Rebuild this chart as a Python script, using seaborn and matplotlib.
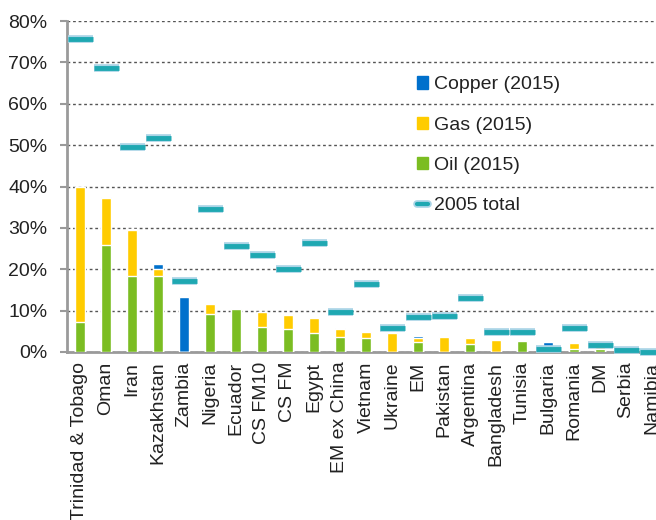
import numpy as np
import matplotlib
matplotlib.use("Agg")
import matplotlib.pyplot as plt
import matplotlib.patheffects as pe
from matplotlib.patches import Patch
from matplotlib.lines import Line2D
import seaborn as sns

sns.set_style("white")
plt.rcParams['font.family'] = ['Liberation Sans', 'DejaVu Sans']

countries = ['Trinidad & Tobago', 'Oman', 'Iran', 'Kazakhstan', 'Zambia', 'Nigeria',
             'Ecuador', 'CS FM10', 'CS FM', 'Egypt', 'EM ex China', 'Vietnam',
             'Ukraine', 'EM', 'Pakistan', 'Argentina', 'Bangladesh', 'Tunisia',
             'Bulgaria', 'Romania', 'DM', 'Serbia', 'Namibia']
# 2015 shares, %
oil = [7.3, 25.8, 18.4, 18.3, 0.0, 9.3, 10.4, 6.1, 5.6, 4.7, 3.6, 3.5,
       0.0, 2.3, 0.0, 1.9, 0.0, 2.7, 0.0, 0.8, 0.7, 0.0, 0.0]
gas = [32.6, 11.5, 11.1, 1.7, 0.0, 2.4, 0.0, 3.5, 3.3, 3.5, 2.0, 1.4,
       4.5, 1.2, 3.6, 1.6, 2.8, 0.0, 0.0, 1.4, 0.6, 0.0, 0.0]
copper = [0.0, 0.2, 0.2, 1.2, 13.4, 0.0, 0.0, 0.0, 0.3, 0.0, 0.3, 0.0,
          0.0, 0.4, 0.0, 0.0, 0.0, 0.0, 2.5, 0.0, 0.0, 0.0, 0.0]
total_2005 = [75.6, 68.7, 49.5, 51.8, 17.1, 34.5, 25.6, 23.5, 20.1, 26.4, 9.6, 16.4,
              5.8, 8.5, 8.8, 13.0, 4.9, 4.9, 0.7, 5.7, 1.8, 0.6, 0.1]

c_oil = '#7BBD22'
c_gas = '#FFCC00'
c_copper = '#0070CC'
c_2005 = '#1FA8B2'
c_text = '#222222'
c_axis = '#9A9A9A'

oil = np.array(oil)
gas = np.array(gas)
copper = np.array(copper)

fig = plt.figure(figsize=(6.56, 5.2), dpi=100)
ax = fig.add_axes([67 / 656, 1 - 352 / 520, 598 / 656, 331 / 520])

# stacked bars drawn as overlapping cumulative totals
sns.barplot(x=countries, y=oil + gas + copper, color=c_copper, width=0.4,
            saturation=1, ax=ax, zorder=3)
sns.barplot(x=countries, y=oil + gas, color=c_gas, width=0.4,
            saturation=1, ax=ax, zorder=3)
sns.barplot(x=countries, y=oil, color=c_oil, width=0.4,
            saturation=1, ax=ax, zorder=3)

halo = [pe.Stroke(linewidth=5.5, foreground='#A9D4E6'), pe.Normal()]
ax.plot(np.arange(len(countries)), total_2005, linestyle='none', marker='_',
        markersize=18, markeredgewidth=3.5, color=c_2005, zorder=4,
        path_effects=halo, clip_on=False)

ax.set_xlim(-0.5, len(countries) - 0.5)
ax.set_ylim(0, 80)
ax.set_yticks(np.arange(0, 81, 10))
ax.set_yticklabels([f'{v}%' for v in range(0, 81, 10)])
ax.yaxis.grid(True, linestyle=(0, (2, 2)), color='#555555', linewidth=1)
ax.set_axisbelow(True)

ax.set_xticks(np.arange(len(countries)))
ax.set_xticklabels(countries, rotation=90)
ax.set_xticks(np.arange(-0.5, len(countries)), minor=True)
ax.tick_params(axis='x', which='major', length=0, pad=7, labelsize=14, labelcolor=c_text)
ax.tick_params(axis='x', which='minor', length=6, width=1.5, color=c_axis, direction='out')
ax.tick_params(axis='y', length=5, width=1.5, color=c_axis, direction='out',
               pad=9, labelsize=14, labelcolor=c_text, left=True)

for s in ['top', 'right']:
    ax.spines[s].set_visible(False)
for s in ['left', 'bottom']:
    ax.spines[s].set_color(c_axis)
    ax.spines[s].set_linewidth(2)

handles = [Patch(color=c_copper, label='Copper (2015)'),
           Patch(color=c_gas, label='Gas (2015)'),
           Patch(color=c_oil, label='Oil (2015)'),
           Line2D([], [], color=c_2005, linewidth=3, path_effects=halo, label='2005 total')]
ax.legend(handles=handles, loc='upper left', bbox_to_anchor=(0.585, 0.833),
          frameon=False, fontsize=14, labelcolor=c_text, borderpad=0,
          borderaxespad=0, handlelength=0.6, handleheight=0.6,
          handletextpad=0.3, labelspacing=1.2)

fig.savefig('out.png', dpi=100)
